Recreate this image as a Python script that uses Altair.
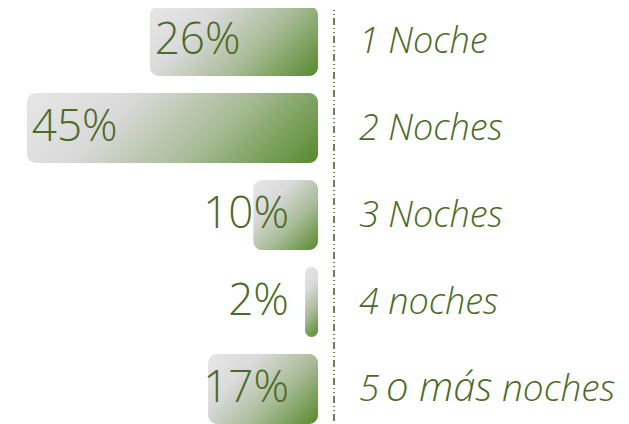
import altair as alt
import pandas as pd

categories = ["1 Noche", "2 Noches", "3 Noches", "4 noches", "5 o más noches"]
values = [26, 45, 10, 2, 17]
labels = ["26%", "45%", "10%", "2%", "17%"]
# the last category's label is set in mixed sizes in the original
last_parts = ["5", "o más", "noches"]

df = pd.DataFrame({"cat": categories, "v": values, "lbl": labels})

GREEN_TXT = "#4a6b28"
PX_PER_UNIT = 291 / 45.0
BAR_H = 70.0

x_scale = alt.Scale(domain=[0, 45], range=[310, 19])
y_scale = alt.Scale(domain=categories, range=[-10.5, 424.5], paddingInner=0.2, paddingOuter=0.1)

X = alt.X("v:Q", scale=x_scale, axis=None)
Y = alt.Y("cat:N", scale=y_scale, axis=None, sort=categories)


def grad_for(v):
    w = max(v * PX_PER_UNIT, 1.0)
    h = BAR_H
    k = (w + h) / (w * w + h * h)
    return alt.Gradient(
        gradient="linear",
        stops=[
            alt.GradientStop(color="#e6e6e6", offset=0),
            alt.GradientStop(color="#dadada", offset=0.3),
            alt.GradientStop(color="#a9bc98", offset=0.62),
            alt.GradientStop(color="#568a2c", offset=1),
        ],
        x1=0, y1=0, x2=w * k, y2=h * k,
    )


layers = []
for c, v in zip(categories, values):
    layers.append(
        alt.Chart(df)
        .transform_filter(alt.datum.cat == c)
        .mark_bar(fill=grad_for(v), cornerRadius=9, height=BAR_H)
        .encode(x=X, x2=alt.datum(0), y=Y)
    )

pct = (
    alt.Chart(df)
    .transform_calculate(lp="max(datum.v - 14, 4.5)")
    .mark_text(align="right", baseline="middle", font="Open Sans", fontWeight=300,
               fontSize=44, color=GREEN_TXT)
    .encode(x=alt.X("lp:Q", scale=x_scale, axis=None), y=Y, text="lbl:N")
)

txt_style = dict(align="left", baseline="alphabetic", font="Open Sans", fontWeight=300,
                 fontStyle="italic", color=GREEN_TXT)

cat_txt = (
    alt.Chart(df)
    .transform_filter(alt.datum.cat != categories[-1])
    .mark_text(fontSize=36, dy=12, **txt_style)
    .encode(x=alt.value(351), y=Y, text="cat:N")
)

last_df = pd.DataFrame({"cat": [categories[-1]] * 3, "part": last_parts})
part_x = [351, 378, 494]
part_size = [37, 40, 37]
last_layers = []
for p, px, fs in zip(last_parts, part_x, part_size):
    last_layers.append(
        alt.Chart(last_df)
        .transform_filter(alt.datum.part == p)
        .mark_text(fontSize=fs, dy=12, **txt_style)
        .encode(x=alt.value(px), y=Y, text="part:N")
    )

divider = (
    alt.Chart(df)
    .mark_rule(color="#6a8150", strokeWidth=1.2, strokeDash=[7, 3, 1, 3, 1, 3])
    .encode(x=alt.value(326), y=alt.value(-8), y2=alt.value(416))
)

chart = (
    alt.layer(*layers, pct, cat_txt, *last_layers, divider)
    .properties(width=613, height=416, padding=0, autosize="none")
    .configure_view(stroke=None)
)

chart.save("out.html", embed_options={"renderer": "svg", "actions": False})
